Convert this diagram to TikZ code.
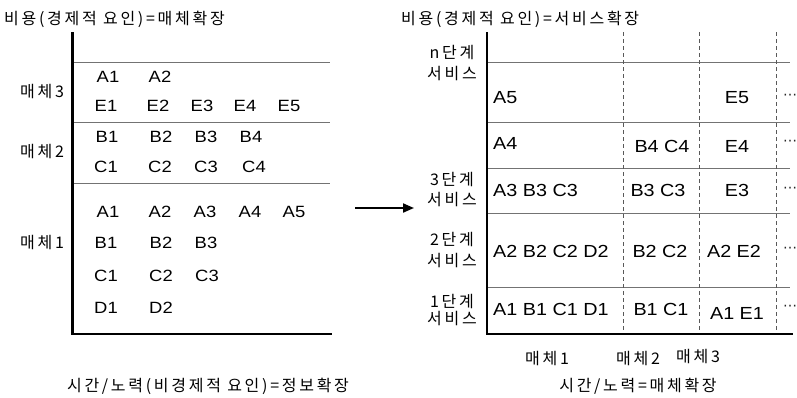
\documentclass[tikz,border=0pt]{standalone}
\usepackage{fontspec}
\setmainfont{Liberation Sans}
\newfontfamily\kr[LetterSpace=17]{Noto Sans CJK KR}
\newfontfamily\lat[FakeStretch=1.13]{Liberation Sans}
\newfontfamily\dv{DejaVu Sans}
\usetikzlibrary{arrows.meta}
\begin{document}
\begin{tikzpicture}[x=1pt,y=-1pt,
  axis/.style={line width=2.6pt,black},
  thin/.style={line width=1pt,black!55},
  dsh/.style={line width=0.9pt,black!65,dash pattern=on 4pt off 3pt},
  krt/.style={inner sep=0pt,font=\kr\fontsize{16}{18}\selectfont},
  cl/.style={inner sep=0pt,font=\lat\fontsize{16.3}{18}\selectfont},
  cr/.style={inner sep=0pt,font=\lat\fontsize{17.5}{19}\selectfont},
  dots/.style={inner sep=0pt,font=\dv\fontsize{14}{15}\selectfont,black!85}]
\useasboundingbox (0,0) rectangle (797,397);

% ---------- left panel ----------
\node[krt,anchor=west] (lt) at (4,19) {비용(경제적 요인)=매체확장};
\coordinate (lo) at (72.5,334);
\coordinate (ltop) at (72.5,32);
\coordinate (lend) at (332,334);
\coordinate (l1a) at (72.5,62);  \coordinate (l1b) at (330,62);
\coordinate (l2a) at (72.5,122); \coordinate (l2b) at (330,122);
\coordinate (l3a) at (72.5,183); \coordinate (l3b) at (330,183);
\draw[thin] (l1a) -- (l1b);
\draw[thin] (l2a) -- (l2b);
\draw[thin] (l3a) -- (l3b);
\draw[axis,line join=miter] (ltop) -- (lo) -- (lend);

\node[krt] (m3) at (42,92) {매체3};
\node[krt] (m2) at (42,152) {매체2};
\node[krt] (m1) at (42,243) {매체1};

\node[cl] (la1) at (108,77) {A1};
\node[cl] (la2) at (160,77) {A2};
\node[cl] (le1) at (106,106) {E1};
\node[cl] (le2) at (158,106) {E2};
\node[cl] (le3) at (202,106) {E3};
\node[cl] (le4) at (245,106) {E4};
\node[cl] (le5) at (289,106) {E5};
\node[cl] (lb1) at (107,137) {B1};
\node[cl] (lb2) at (161,137) {B2};
\node[cl] (lb3) at (206,137) {B3};
\node[cl] (lb4) at (251,137) {B4};
\node[cl] (lc1) at (106,167) {C1};
\node[cl] (lc2) at (160,167) {C2};
\node[cl] (lc3) at (206,167) {C3};
\node[cl] (lc4) at (254,167) {C4};
\node[cl] (ma1) at (108,212) {A1};
\node[cl] (ma2) at (160,212) {A2};
\node[cl] (ma3) at (205,212) {A3};
\node[cl] (ma4) at (250,212) {A4};
\node[cl] (ma5) at (294,212) {A5};
\node[cl] (mb1) at (106,243) {B1};
\node[cl] (mb2) at (161,243) {B2};
\node[cl] (mb3) at (206,243) {B3};
\node[cl] (mc1) at (106,276) {C1};
\node[cl] (mc2) at (161,276) {C2};
\node[cl] (mc3) at (207,276) {C3};
\node[cl] (md1) at (106,308) {D1};
\node[cl] (md2) at (161,308) {D2};

\node[krt] (lx) at (208,386) {시간/노력(비경제적 요인)=정보확장};

% ---------- arrow ----------
\coordinate (ar1) at (355,208);
\coordinate (ar2) at (414,208);
\draw[line width=2pt,-{Triangle[length=11pt,width=9pt]}] (ar1) -- (ar2);

% ---------- right panel ----------
\node[krt,anchor=west] (rt) at (401,19) {비용(경제적 요인)=서비스확장};
\coordinate (ro) at (487,334);
\coordinate (rtop) at (487,32);
\coordinate (rend) at (793,334);
\foreach \y/\n in {62/a,122/b,168/c,213/d,287/e}{
  \coordinate (h\n1) at (487,\y); \coordinate (h\n2) at (790,\y);
  \draw[thin] (h\n1) -- (h\n2);
}
\foreach \x/\n in {623/a,699/b,776/c}{
  \coordinate (v\n1) at (\x,32); \coordinate (v\n2) at (\x,334);
  \draw[dsh] (v\n1) -- (v\n2);
}
\draw[axis,line join=miter] (rtop) -- (ro) -- (rend);

\node[krt] (sn1) at (452,53) {n단계};
\node[krt] (sn2) at (452,74) {서비스};
\node[krt] (s31) at (452,180) {3단계};
\node[krt] (s32) at (452,200) {서비스};
\node[krt] (s21) at (452,240) {2단계};
\node[krt] (s22) at (452,261) {서비스};
\node[krt] (s11) at (452,302) {1단계};
\node[krt] (s12) at (452,319) {서비스};

\node[cr,anchor=west] (ra5) at (493,98) {A5};
\node[cr] (re5) at (737,98) {E5};
\node[dots] (d5) at (790,97) {⋯};

\node[cr,anchor=west] (ra4) at (493,143) {A4};
\node[cr] (rb4) at (662,146) {B4 C4};
\node[cr] (re4) at (737,146) {E4};
\node[dots] (d4) at (790,143) {⋯};

\node[cr,anchor=west] (ra3) at (493,190) {A3 B3 C3};
\node[cr] (rb3) at (658,190) {B3 C3};
\node[cr] (re3) at (737,190) {E3};
\node[dots] (d3) at (790,190) {⋯};

\node[cr,anchor=west] (ra2) at (493,251) {A2 B2 C2 D2};
\node[cr] (rb2) at (660,251) {B2 C2};
\node[cr] (re2) at (734,251) {A2 E2};
\node[dots] (d2) at (790,250) {⋯};

\node[cr,anchor=west] (ra1) at (493,309) {A1 B1 C1 D1};
\node[cr] (rb1) at (661,309) {B1 C1};
\node[cr] (re1) at (737,313) {A1 E1};
\node[dots] (d1) at (790,308) {⋯};

\node[krt] (bm1) at (547,358) {매체1};
\node[krt] (bm2) at (638,358) {매체2};
\node[krt] (bm3) at (698,356) {매체3};
\node[krt] (rx) at (638,386) {시간/노력=매체확장};
\end{tikzpicture}
\end{document}
